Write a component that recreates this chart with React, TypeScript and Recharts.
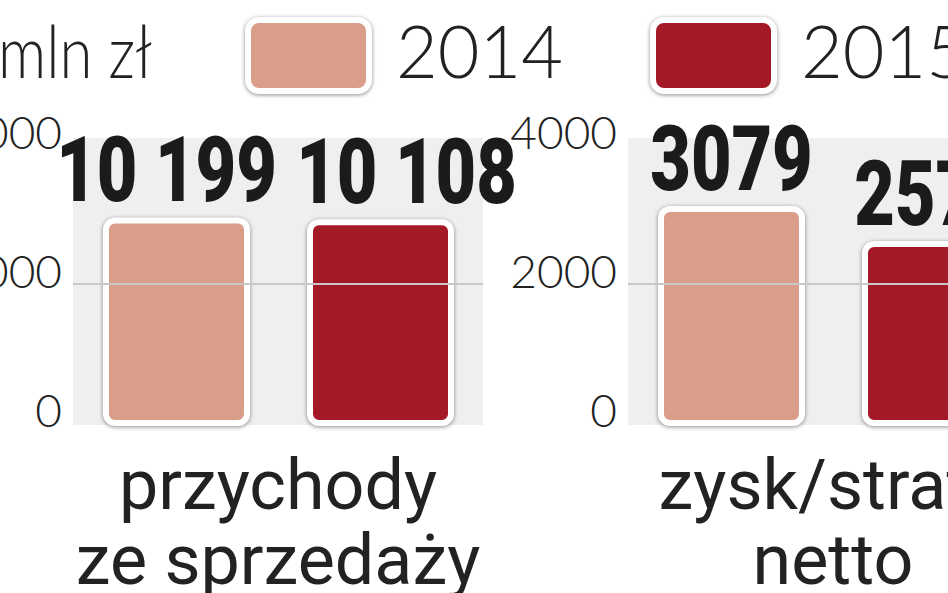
import React from 'react';
import { BarChart, Bar, XAxis, YAxis, ReferenceLine, LabelList, Legend } from 'recharts';

// ---- data ----
const categories = ['przychody ze sprzedaży', 'zysk/strata netto'];
const seriesNames = ['2014', '2015'];
const values2014 = [10199, 3079];
const values2015 = [10108, 2574];
const yTicksRevenue = [0, 7000, 14000];
const yTicksProfit = [0, 2000, 4000];
const unitLabel = 'mln zł';
const seriesColors = ['#d99d89', '#a41926'];

// ---- layout / style ----
const W = 948;
const H = 593;
const PLOT_W = 410;
const AXIS_W = 160;
const PLOT_TOP = 145;
const PLOT_BOTTOM = 423;
const PANEL_LEFT = [73, 628];
const LABEL_SHIFT = [[-10, 26], [0, 0]];
const LIGHT_FONT = 'Lato, "Open Sans", sans-serif';
const TEXT_COLOR = '#222222';

const panelTicks = [yTicksRevenue, yTicksProfit];

const fmt = (v: number) => {
  const s = String(Math.round(v));
  if (v >= 10000) return s.replace(/\B(?=(\d{3})+(?!\d))/g, ' ');
  return s;
};

const FramedBar = (props: any) => {
  const { x, y, width, height, fill } = props;
  if (width == null || height == null) return null;
  return (
    <rect
      x={x}
      y={y}
      width={width}
      height={height}
      rx={9}
      ry={9}
      fill={fill}
      stroke="#ffffff"
      strokeWidth={6}
      style={{ filter: 'drop-shadow(0px 1px 2px rgba(0,0,0,0.45))' }}
    />
  );
};

const makeValueLabel = (shift: number) => (props: any) => {
  const vb = props.viewBox || {};
  const x = props.x ?? vb.x;
  const y = props.y ?? vb.y;
  const width = props.width ?? vb.width;
  const cx = x + width / 2 + shift;
  const by = y - 19;
  return (
    <text
      transform={`translate(${cx},${by}) scale(0.77,1)`}
      textAnchor="middle"
      fontFamily="Roboto, sans-serif"
      fontWeight={900}
      fontSize={91}
      fill="#1b1b1b"
    >
      {fmt(props.value)}
    </text>
  );
};

const ValueTick = (props: any) => {
  const { x, y, payload } = props;
  return (
    <text
      x={x}
      y={y + 4}
      textAnchor="end"
      fontFamily={LIGHT_FONT}
      fontWeight={300}
      fontSize={46}
      fill={TEXT_COLOR}
    >
      {String(payload.value)}
    </text>
  );
};

const CategoryTick = (props: any) => {
  const { x, y, payload } = props;
  const s: string = payload.value;
  const i = s.indexOf(' ');
  const lines = i > 0 ? [s.slice(0, i), s.slice(i + 1)] : [s];
  return (
    <g>
      {lines.map((ln, k) => (
        <text
          key={k}
          x={x}
          y={y + 86 + k * 75}
          textAnchor="middle"
          fontFamily="Roboto, sans-serif"
          fontWeight={400}
          fontSize={70}
          fill={TEXT_COLOR}
        >
          {ln}
        </text>
      ))}
    </g>
  );
};

const renderLegend = (props: any) => {
  const payload = props.payload || [];
  return (
    <svg width={W} height={100} style={{ display: 'block', overflow: 'visible' }}>
      <text
        x={-2}
        y={78}
        textLength={154}
        lengthAdjust="spacingAndGlyphs"
        fontFamily={LIGHT_FONT}
        fontWeight={300}
        fontSize={72}
        fill={TEXT_COLOR}
      >
        {unitLabel}
      </text>
      {payload.map((p: any, i: number) => {
        const bx = 248 + i * 405;
        return (
          <g key={i}>
            <rect
              x={bx}
              y={20}
              width={121}
              height={71}
              rx={11}
              ry={11}
              fill={p.color}
              stroke="#ffffff"
              strokeWidth={6}
              style={{ filter: 'drop-shadow(0px 1px 2px rgba(0,0,0,0.45))' }}
            />
            <text x={bx + 148} y={78} fontFamily={LIGHT_FONT} fontWeight={300} fontSize={72} fill={TEXT_COLOR}>
              {p.value}
            </text>
          </g>
        );
      })}
    </svg>
  );
};

const Panel = ({ idx }: { idx: number }) => {
  const ticks = panelTicks[idx];
  const data = [{ name: categories[idx], y2014: values2014[idx], y2015: values2015[idx] }];
  const left = PANEL_LEFT[idx] - AXIS_W;
  return (
    <div style={{ position: 'absolute', left, top: 0 }}>
      <BarChart
        width={AXIS_W + PLOT_W + 80}
        height={H}
        data={data}
        margin={{ top: PLOT_TOP, right: 80, bottom: 0, left: 0 }}
        barGap={63}
        barCategoryGap={0}
      >
        <XAxis
          dataKey="name"
          axisLine={false}
          tickLine={false}
          tickSize={0}
          tickMargin={0}
          height={H - PLOT_BOTTOM}
          interval={0}
          tick={<CategoryTick />}
        />
        <YAxis
          type="number"
          domain={[0, ticks[ticks.length - 1]]}
          ticks={ticks}
          interval={0}
          axisLine={false}
          tickLine={false}
          tickSize={0}
          tickMargin={11}
          width={AXIS_W}
          tick={<ValueTick />}
        />
        <ReferenceLine y={ticks[1]} stroke="#c8c8c8" strokeWidth={2} />
        {idx === 0 && (
          <Legend
            layout="horizontal"
            verticalAlign="middle"
            align="center"
            content={renderLegend}
            wrapperStyle={{ position: 'absolute', top: 0, left: -left, width: W, height: 100 }}
          />
        )}
        <Bar
          dataKey="y2014"
          name={seriesNames[0]}
          fill={seriesColors[0]}
          barSize={141}
          shape={<FramedBar />}
          isAnimationActive={false}
        >
          <LabelList dataKey="y2014" content={makeValueLabel(LABEL_SHIFT[idx][0])} />
        </Bar>
        <Bar
          dataKey="y2015"
          name={seriesNames[1]}
          fill={seriesColors[1]}
          barSize={141}
          shape={<FramedBar />}
          isAnimationActive={false}
        >
          <LabelList dataKey="y2015" content={makeValueLabel(LABEL_SHIFT[idx][1])} />
        </Bar>
      </BarChart>
    </div>
  );
};

export default function App() {
  return (
    <div
      style={{
        position: 'absolute',
        left: 0,
        top: 0,
        width: W,
        height: H,
        overflow: 'hidden',
        background: '#ffffff',
      }}
    >
      {PANEL_LEFT.map((pl, i) => (
        <div
          key={'bg' + i}
          style={{
            position: 'absolute',
            left: pl,
            top: 138,
            width: PLOT_W,
            height: 425 - 138,
            background: '#efefef',
          }}
        />
      ))}
      <Panel idx={0} />
      <Panel idx={1} />
    </div>
  );
}
